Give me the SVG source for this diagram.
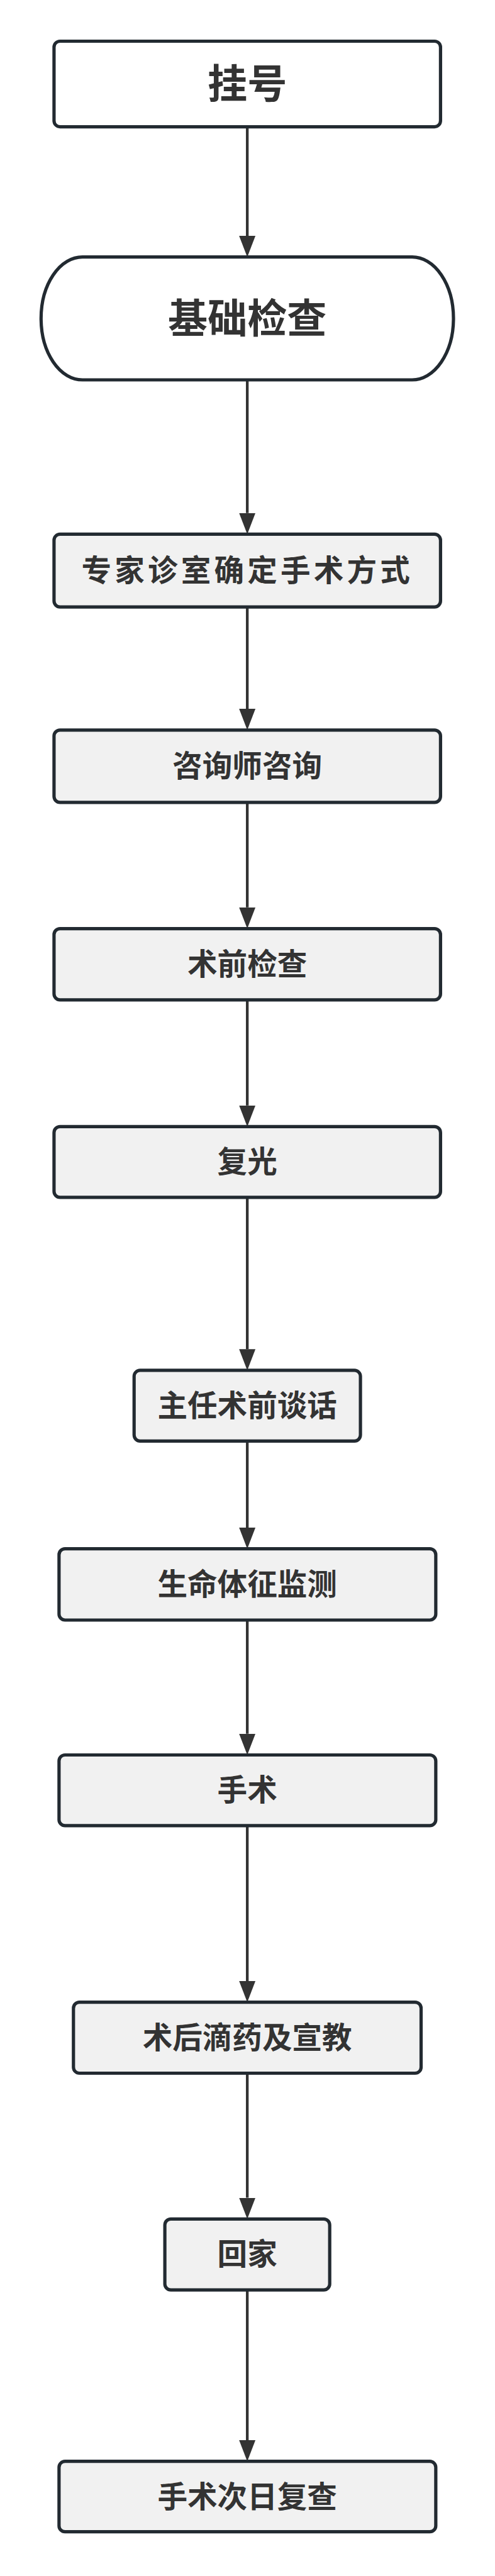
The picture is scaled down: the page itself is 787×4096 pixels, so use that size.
<svg xmlns="http://www.w3.org/2000/svg" width="787" height="4096" viewBox="0 0 787 4096">
<style>
.box{fill:#f1f1f1;stroke:#222a31;stroke-width:6}
.start{fill:#ffffff;stroke:#222a31;stroke-width:6}
.lbl{font-family:"Noto Sans CJK SC","Noto Sans",sans-serif;font-weight:bold;fill:#333333;text-anchor:middle}
.t1{font-size:55px}
.th{font-size:73px}
.edge{fill:none;stroke:#333333;stroke-width:5}
</style>
<defs>
<marker id="ah" markerUnits="userSpaceOnUse" markerWidth="40" markerHeight="31" viewBox="0 0 40 31" refX="0" refY="15.5" orient="auto">
<path d="M0,0.5 L39,15.5 L0,30.5 Z" fill="#333333"/>
</marker>
</defs>
<rect width="787" height="4096" fill="#ffffff"/>
<g transform="scale(0.865)">
<g id="connectors">
<path class="edge" d="M454.5,233 V433.5" marker-end="url(#ah)"/>
<path class="edge" d="M454.5,698.3 V943" marker-end="url(#ah)"/>
<path class="edge" d="M454.5,1115.7 V1303" marker-end="url(#ah)"/>
<path class="edge" d="M454.5,1475 V1668" marker-end="url(#ah)"/>
<path class="edge" d="M454.5,1838 V2032" marker-end="url(#ah)"/>
<path class="edge" d="M454.5,2201 V2480" marker-end="url(#ah)"/>
<path class="edge" d="M454.5,2649 V2808" marker-end="url(#ah)"/>
<path class="edge" d="M454.5,2978 V3187" marker-end="url(#ah)"/>
<path class="edge" d="M454.5,3356 V3641.5" marker-end="url(#ah)"/>
<path class="edge" d="M454.5,3811 V4040" marker-end="url(#ah)"/>
<path class="edge" d="M454.5,4209.5 V4485.5" marker-end="url(#ah)"/>
</g>
<g id="n1">
<rect class="start" x="99.3" y="75.7" width="710.4" height="157.3" rx="11" ry="11"/>
<text class="lbl th" x="454.5" y="180">挂号</text>
</g>
<g id="n2">
<rect class="start" x="75.5" y="472.5" width="758" height="225.8" rx="76" ry="112.9"/>
<text class="lbl th" x="454.5" y="611">基础检查</text>
</g>
<g id="n3">
<rect class="box" x="99.3" y="982" width="710.4" height="133.7" rx="11" ry="11"/>
<text class="lbl t1" x="454.5" y="1068" letter-spacing="6">专家诊室确定手术方式</text>
</g>
<g id="n4">
<rect class="box" x="99.3" y="1342" width="710.4" height="133" rx="11" ry="11"/>
<text class="lbl t1" x="454.5" y="1428">咨询师咨询</text>
</g>
<g id="n5">
<rect class="box" x="99.3" y="1707" width="710.4" height="131" rx="11" ry="11"/>
<text class="lbl t1" x="454.5" y="1792">术前检查</text>
</g>
<g id="n6">
<rect class="box" x="99.3" y="2071" width="710.4" height="130" rx="11" ry="11"/>
<text class="lbl t1" x="454.5" y="2155">复光</text>
</g>
<g id="n7">
<rect class="box" x="246.5" y="2519" width="416" height="130" rx="11" ry="11"/>
<text class="lbl t1" x="454.5" y="2603">主任术前谈话</text>
</g>
<g id="n8">
<rect class="box" x="108.5" y="2847" width="692.5" height="131" rx="11" ry="11"/>
<text class="lbl t1" x="454.5" y="2932">生命体征监测</text>
</g>
<g id="n9">
<rect class="box" x="108.5" y="3226" width="692.5" height="130" rx="11" ry="11"/>
<text class="lbl t1" x="454.5" y="3310">手术</text>
</g>
<g id="n10">
<rect class="box" x="135" y="3680.5" width="639" height="130.5" rx="11" ry="11"/>
<text class="lbl t1" x="454.5" y="3765">术后滴药及宣教</text>
</g>
<g id="n11">
<rect class="box" x="303" y="4079" width="303" height="130.5" rx="11" ry="11"/>
<text class="lbl t1" x="454.5" y="4163">回家</text>
</g>
<g id="n12">
<rect class="box" x="108.5" y="4524.5" width="692.5" height="129.5" rx="11" ry="11"/>
<text class="lbl t1" x="454.5" y="4609">手术次日复查</text>
</g>
</g>
</svg>
